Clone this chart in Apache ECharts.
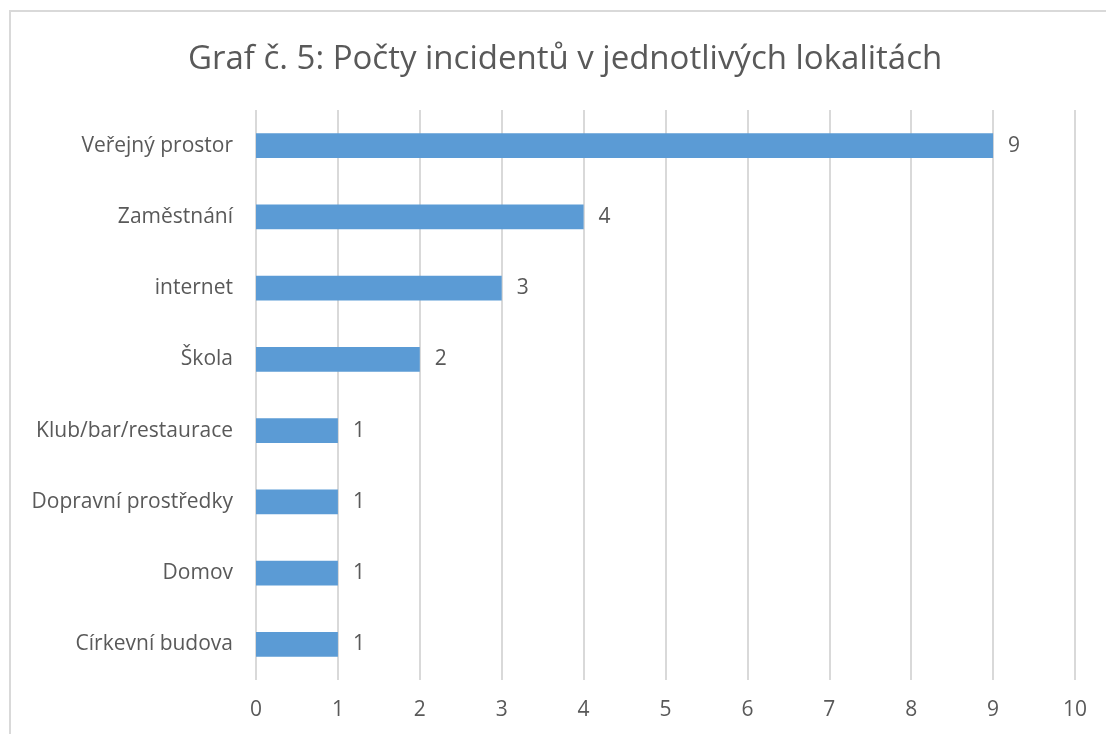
<!DOCTYPE html>
<html>
<head>
<meta charset="utf-8">
<script src="https://cdn.jsdelivr.net/npm/echarts@6/dist/echarts.min.js"></script>
<style>
  html, body { margin: 0; padding: 0; background: #fff; }
  #chart { width: 1106px; height: 734px; }
</style>
</head>
<body>
<div id="chart"></div>
<script>
const titleText = 'Graf č. 5: Počty incidentů v jednotlivých lokalitách'
const categories = [
  'Veřejný prostor',
  'Zaměstnání',
  'internet',
  'Škola',
  'Klub/bar/restaurace',
  'Dopravní prostředky',
  'Domov',
  'Církevní budova'
]
const counts = [9, 4, 3, 2, 1, 1, 1, 1]

const FONT = '"Open Sans", "Noto Sans", sans-serif'
const TEXT_COLOR = '#595959'

const chart = echarts.init(document.getElementById('chart'))

chart.setOption({
  animation: false,
  title: {
    text: titleText,
    left: 183,
    top: 38,
    textStyle: {
      fontFamily: FONT,
      fontSize: 33,
      fontWeight: 'normal',
      color: TEXT_COLOR
    }
  },
  graphic: [
    {
      type: 'rect',
      shape: { x: 10, y: 11, width: 1200, height: 800 },
      style: { fill: 'none', stroke: '#d9d9d9', lineWidth: 2 },
      silent: true,
      z: -1
    }
  ],
  grid: {
    left: 256,
    right: 31,
    top: 110,
    bottom: 54,
    containLabel: false
  },
  xAxis: {
    type: 'value',
    min: 0,
    max: 10,
    interval: 1,
    axisLine: { show: false },
    axisTick: { show: false },
    axisLabel: {
      margin: 20,
      fontFamily: FONT,
      fontSize: 21,
      color: TEXT_COLOR
    },
    splitLine: { lineStyle: { color: '#d9d9d9', width: 2 } }
  },
  yAxis: {
    type: 'category',
    inverse: true,
    data: categories,
    axisLine: { show: false },
    axisTick: { show: false },
    axisLabel: {
      margin: 23,
      fontFamily: FONT,
      fontSize: 21,
      color: TEXT_COLOR
    }
  },
  series: [
    {
      type: 'bar',
      data: counts,
      barWidth: '35%',
      itemStyle: { color: '#5b9bd5' },
      label: {
        show: true,
        position: 'right',
        distance: 15,
        fontFamily: FONT,
        fontSize: 21,
        color: TEXT_COLOR
      }
    }
  ]
})
</script>
</body>
</html>
